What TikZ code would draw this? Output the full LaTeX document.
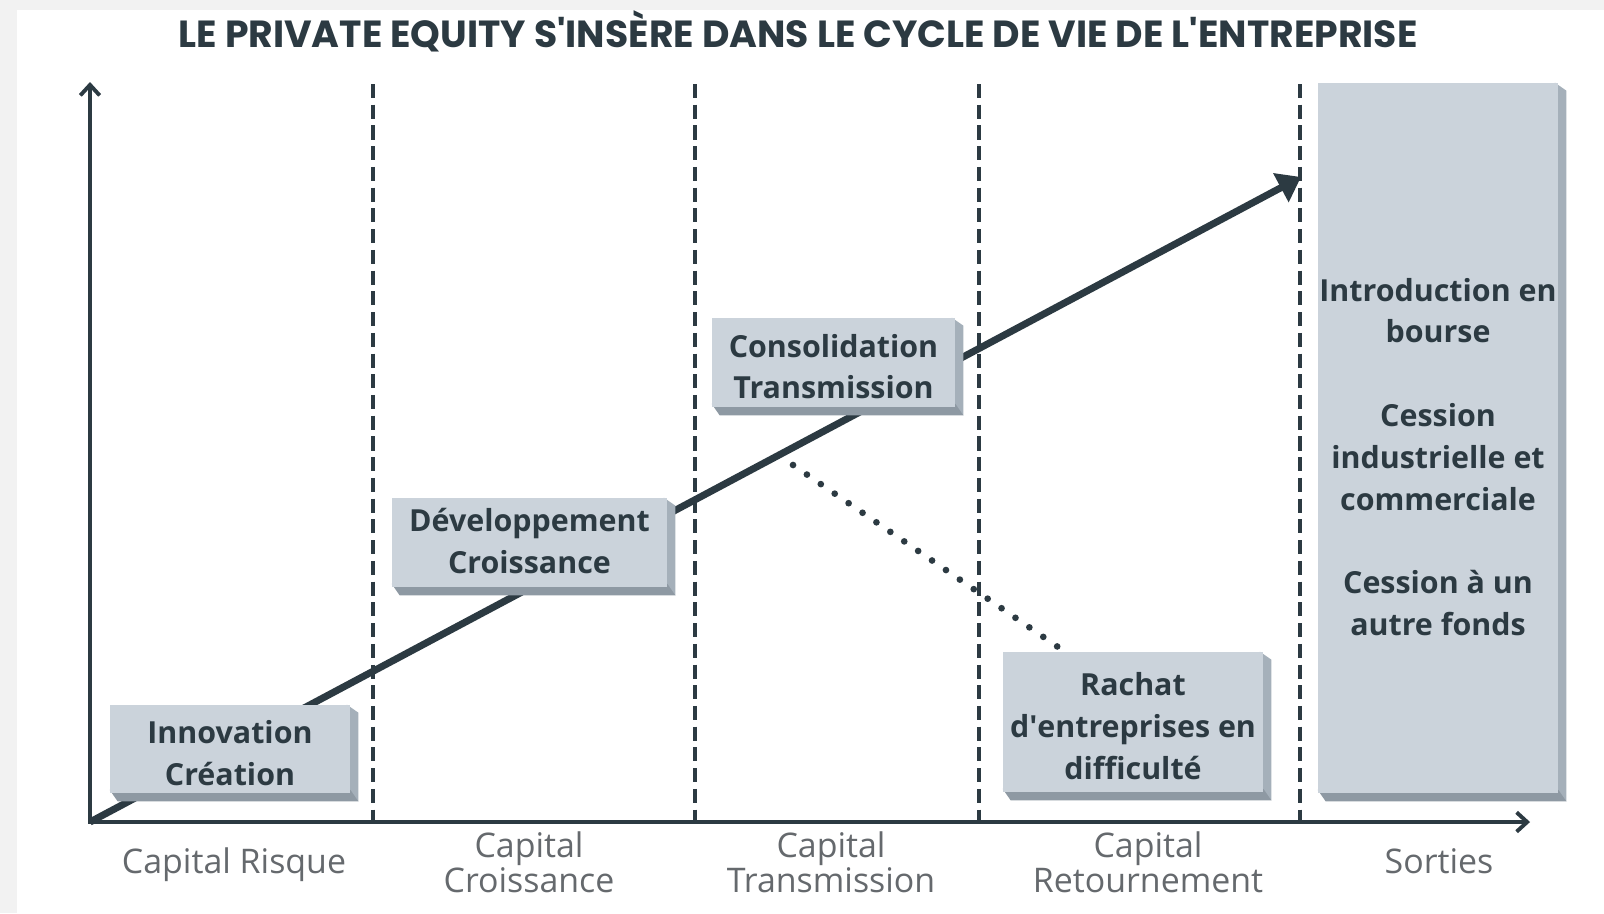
\documentclass[tikz,border=0pt]{standalone}
\usepackage{fontspec}
\setmainfont{Open Sans}
\newfontfamily\headfont{Poppins}
\usetikzlibrary{arrows.meta}

\definecolor{pagegrey}{HTML}{F2F2F2}
\definecolor{ink}{HTML}{2C3A42}
\definecolor{slabfront}{HTML}{CBD3DB}
\definecolor{slabside}{HTML}{A5B0BA}
\definecolor{slabbase}{HTML}{8E99A3}
\definecolor{phasetext}{HTML}{65696D}

\tikzset{
  headline/.style={font=\headfont\bfseries\fontsize{21.5}{24}\selectfont, text=ink, inner sep=0pt},
  divider/.style={draw=ink, line width=2pt, dash pattern=on 8pt off 3.8pt},
  axisline/.style={draw=ink, line width=2.2pt},
  trend/.style={draw=ink, line width=4pt, -{Triangle[length=13pt,width=18pt]}},
  dotline/.style={draw=ink, line width=3.8pt, line cap=round, dash pattern=on 0pt off 9.6pt},
  slab/.style 2 args={rectangle, inner sep=0pt,
    minimum width={#1*0.02cm}, minimum height={#2*0.02cm}},
  slabtext/.style={font=\bfseries\fontsize{17.3}{23.8}\selectfont, text=ink, align=center, inner sep=0pt},
  phase/.style={font=\fontsize{19.3}{19.6}\selectfont, text=phasetext, align=center, inner sep=0pt}
}

\begin{document}
\begin{tikzpicture}[x=0.02cm,y=-0.02cm]
  \useasboundingbox (0,0) rectangle (1604,913);
  \fill[pagegrey] (0,0) rectangle (1604,913);
  \fill[white] (17,10) rectangle (1604,913);

  % title
  \node[headline, anchor=base] (title) at (798,47)
    {LE PRIVATE EQUITY S'INSÈRE DANS LE CYCLE DE VIE DE L'ENTREPRISE};

  % phase separators
  \foreach \x in {373,695,979,1300}
    \draw[divider] (\x,84) -- (\x,822);

  % axes
  \coordinate (origin) at (90,822);
  \coordinate (ytop) at (90,82);
  \coordinate (xend) at (1530,822);
  \draw[axisline, {Straight Barb[length=6pt,width=11pt]}-{Straight Barb[length=6pt,width=11pt]}]
    (ytop) -- (origin) -- (xend);

  % growth trend
  \coordinate (tip) at (1301,177);
  \draw[trend] (origin) -- (tip);

  % branch towards turnaround
  \coordinate (dotA) at (793,465);
  \coordinate (dotB) at (1058,647);
  \draw[dotline] (dotA) -- (dotB);

  % stage blocks (geometry)
  \node[slab={240}{88}] (inno) at (230,749) {};
  \node[slab={275}{89}] (dev) at (529.5,542.5) {};
  \node[slab={243}{89}] (cons) at (833.5,362.5) {};
  \node[slab={260}{140}] (rach) at (1133,722) {};
  \node[slab={240}{710}] (sort) at (1438,438) {};

  % block faces: depth first, front face on top
  \foreach \n in {inno,dev,cons,rach,sort} {
    \fill[slabside] ([xshift=-2pt]\n.north east) -- ([shift={(8,8)}]\n.north east)
      -- ([shift={(8,8)}]\n.south east) -- ([xshift=-2pt]\n.south east) -- cycle;
    \fill[slabbase] ([yshift=2pt]\n.south west) -- ([yshift=2pt]\n.south east)
      -- ([shift={(8,8)}]\n.south east) -- ([shift={(8,8)}]\n.south west) -- cycle;
    \fill[slabfront] (\n.south west) rectangle (\n.north east);
  }

  % block captions
  \node[slabtext] (innoText) at ([yshift=-2.3pt]inno.center) {Innovation\\Création};
  \node[slabtext] (devText) at ([yshift=1pt]dev.center) {Développement\\Croissance};
  \node[slabtext] (consText) at ([yshift=-2.3pt]cons.center) {Consolidation\\Transmission};
  \node[slabtext] (rachText) at ([yshift=-2.3pt]rach.center) {Rachat\\d\textquotesingle entreprises en\\difficulté};
  \node[slabtext] (exits) at (1438,457)
    {Introduction en\\bourse\\[23.8pt]Cession\\industrielle et\\commerciale\\[23.8pt]Cession à un\\autre fonds};

  % phase names
  \node[phase, anchor=base] (pRisque) at (234,873) {Capital Risque};
  \node[phase, anchor=base] (pCroiss) at (529,892) {Capital\\Croissance};
  \node[phase, anchor=base] (pTrans) at (831,892) {Capital\\Transmission};
  \node[phase, anchor=base] (pRetour) at (1148,892) {Capital\\Retournement};
  \node[phase, anchor=base] (pSorties) at (1439,873) {Sorties};
\end{tikzpicture}
\end{document}
